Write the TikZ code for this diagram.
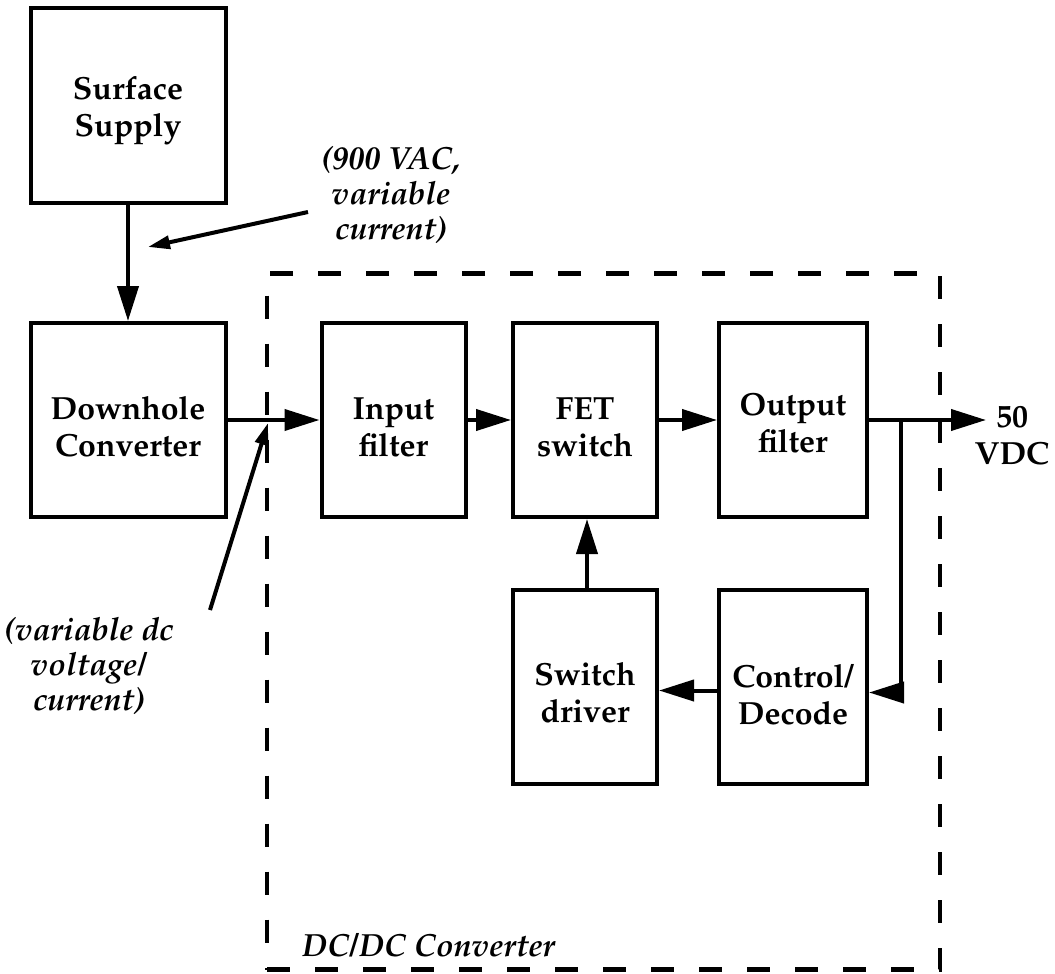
\documentclass[tikz,border=0pt]{standalone}
\usepackage[T1]{fontenc}
\usepackage{mathpazo}
\usetikzlibrary{arrows.meta}
\begin{document}
\begin{tikzpicture}[x=0.5pt,y=-0.5pt,
  blk/.style={draw, line width=2pt, minimum width=72pt, minimum height=97pt, inner sep=0pt},
  blktext/.style={align=center, inner sep=0pt, font=\fontsize{16pt}{18.5pt}\selectfont\bfseries},
  conn/.style={line width=2pt, -{Triangle[length=17.5pt,width=10.5pt]}},
  note/.style={align=center, inner sep=0pt, font=\fontsize{16pt}{17.5pt}\selectfont\bfseries\itshape},
  noteline/.style={line width=2pt, -{Triangle[length=11pt,width=6.5pt]}},
  dashbox/.style={draw, line width=2.2pt, dash pattern=on 11.5pt off 12.5pt, minimum width=336.5pt, minimum height=348pt, inner sep=0pt},
]
\useasboundingbox (0,0) rectangle (1055,974);

% dashed converter outline
\node[dashbox] (dcdc) at (603.5,621.5) {};
\node[note, anchor=west] (dclab) at (302,945) {DC/DC Converter};

% blocks
\node[blk, minimum width=97.5pt, label={[blktext, yshift=-2.5pt]center:Surface\\Supply}] (surf) at (128,105.5) {};
\node[blk, minimum width=97.5pt, label={[blktext, yshift=-3.5pt]center:Downhole\\Converter}] (down) at (128,420) {};
\node[blk, label={[blktext, yshift=-3.5pt]center:Input\\filter}] (inf)  at (393.5,420) {};
\node[blk, label={[blktext, yshift=-3.5pt]center:FET\\switch}] (fet)  at (585,420) {};
\node[blk, minimum width=74pt, label={[blktext, yshift=-1.5pt]center:Output\\filter}] (outf) at (793,420) {};
\node[blk, label={[blktext, yshift=-3pt]center:Switch\\driver}] (swd)  at (585,686.5) {};
\node[blk, minimum width=74pt, label={[blktext, yshift=-4pt]center:Control/\\Decode}] (ctl)  at (793,686.5) {};

% output label
\node[blktext] (vdc) at (1012,435) {50\\VDC};

% connectors
\draw[conn] (surf.south) -- (down.north);
\draw[conn] (down.east) -- (inf.west);
\draw[conn] (inf.east) -- (fet.west);
\draw[conn] (fet.east) -- (outf.west);
\coordinate (vout) at (986,420);
\draw[conn] (outf.east) -- (vout);
\coordinate (br) at (901,420);
\draw[conn] (br) |- ([yshift=-3pt]ctl.east);
\draw[conn] ([yshift=-2pt]ctl.west) -- ([yshift=-2pt]swd.east);
\draw[conn] ([xshift=1pt]swd.north) -- ([xshift=1pt]fet.south);

% annotations
\node[note] (n1) at (391,195) {(900 VAC,\\variable\\current)};
\coordinate (n1s) at (308,212);
\coordinate (n1t) at (148,247);
\draw[noteline] (n1s) -- (n1t);

\node[note] (n2) at (89,666) {(variable dc\\voltage/\\current)};
\coordinate (n2s) at (210,610);
\coordinate (n2t) at (268,423);
\draw[noteline] (n2s) -- (n2t);
\end{tikzpicture}
\end{document}
